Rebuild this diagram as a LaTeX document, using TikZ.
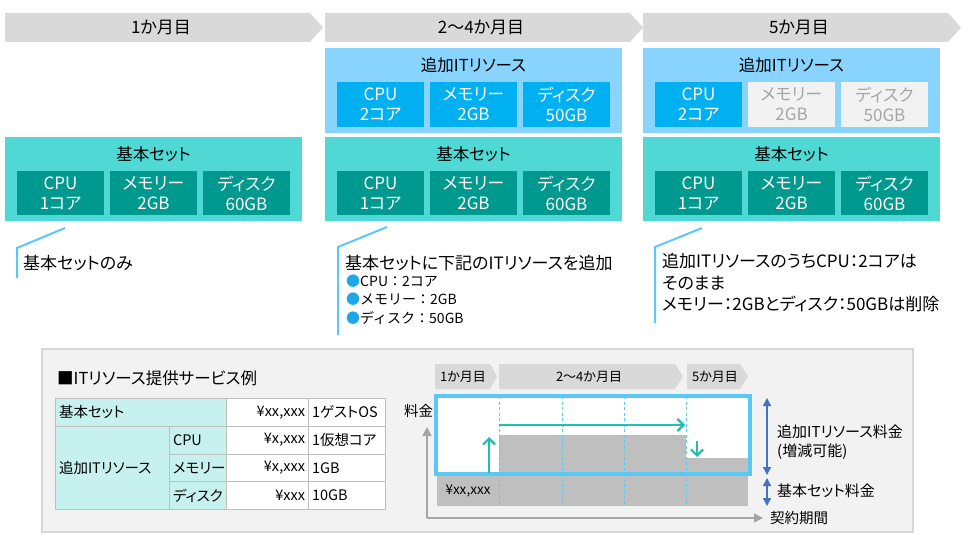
\documentclass[tikz,border=0pt]{standalone}
\usepackage{fontspec}
\setmainfont{Noto Sans CJK JP}[RawFeature=+palt]
\newfontfamily\fullwidth{Noto Sans CJK JP}
\usetikzlibrary{arrows.meta, positioning}

\definecolor{hdrgray}{HTML}{D9D9D9}
\definecolor{addblue}{HTML}{88D4FF}
\definecolor{addcellblue}{HTML}{00B0F0}
\definecolor{basecyan}{HTML}{50D8D4}
\definecolor{baseteal}{HTML}{00998F}
\definecolor{offgray}{HTML}{F2F2F2}
\definecolor{offtext}{HTML}{A6A6A6}
\definecolor{calloutblue}{HTML}{5BC8F5}
\definecolor{bulletblue}{HTML}{1EA7E8}
\definecolor{tblcyan}{HTML}{C6F1EF}
\definecolor{tblline}{HTML}{BFBFBF}
\definecolor{panelgray}{HTML}{F2F2F2}
\definecolor{panelline}{HTML}{D6D6D6}
\definecolor{frameblue}{HTML}{59C8F5}
\definecolor{bargray}{HTML}{BFBFBF}
\definecolor{arrowteal}{HTML}{20C0B0}
\definecolor{axisgray}{HTML}{A6A6A6}
\definecolor{spanblue}{HTML}{4472C4}
\newcommand{\fs}[2]{\fontsize{#1}{#2}\selectfont}
\newcommand{\bul}{{\color{bulletblue}●}}

\begin{document}
\begin{tikzpicture}[x=1pt, y=-1pt,
        hdr/.style = {fill=hdrgray},
        hdrtext/.style = {font=\fs{17}{20}},
        basebox/.style = {fill=basecyan, minimum width=297pt, minimum height=84pt, inner sep=0pt},
        addbox/.style = {fill=addblue, minimum width=297pt, minimum height=85pt, inner sep=0pt},
        boxtitle/.style = {font=\fs{16.5}{19}},
        boxcell/.style = {minimum width=87pt, inner sep=0pt, align=center, font=\fs{17}{20}},
        basecell/.style = {boxcell, fill=baseteal, text=white, minimum height=44pt},
        addcell/.style = {boxcell, fill=addcellblue, text=white, minimum height=45pt},
        offcell/.style = {boxcell, fill=offgray, text=offtext, minimum height=45pt},
        callout/.style = {draw=calloutblue, line width=2pt},
        note/.style = {font=\fs{17}{21.5}, align=left, inner sep=0pt},
        tcell/.style = {draw=tblline, line width=1pt, minimum height=27.75pt, inner xsep=3.5pt,
                        inner ysep=0pt, font=\fs{14.5}{17}, anchor=north west, fill=white},
        chip/.style = {font=\fs{13}{15}},
        rise/.style = {draw=arrowteal, line width=2.2pt, -{Straight Barb[length=6pt, width=12pt]}},
        axis/.style = {draw=axisgray, line width=1.5pt, -{Triangle[length=9pt, width=9pt]}},
        span/.style = {draw=spanblue, line width=1.3pt,
                       {Triangle[length=8pt, width=8pt]}-{Triangle[length=8pt, width=8pt]}},
        label/.style = {font=\fs{15}{18}, anchor=west, inner sep=0pt}]
    \useasboundingbox (0,0) rectangle (965,543);

    % month 1
    \fill[hdr] (5,13) -- (310,13) -- (323,27.5) -- (310,42) -- (5,42) -- cycle;
    \node[hdrtext] (m1) at (161,27.5) {1か月目};
    \node[basebox] (base1) at (153.5,179) {};
    \node[boxtitle] (base1t) at (153.5,154) {基本セット};
    \node[basecell] (base1cpu) at (60.5,193) {CPU\\1コア};
    \node[basecell] (base1mem) at (153.5,193) {メモリー\\2GB};
    \node[basecell] (base1disk) at (246.5,193) {ディスク\\60GB};
    \coordinate (c1a) at (17,278);
    \coordinate (c1b) at (17,248);
    \coordinate (c1c) at (65,228);
    \draw[callout] (c1a) -- (c1b) -- (c1c);
    \node[note, anchor=west] (note1) at (23,263) {基本セットのみ};

    % months 2-4
    \begin{scope}[xshift=320pt]
        \fill[hdr] (5,13) -- (310,13) -- (323,27.5) -- (310,42) -- (5,42) -- cycle;
        \node[hdrtext] (m2) at (161,27.5) {2〜4か月目};
        \node[addbox] (add2) at (153.5,90.5) {};
        \node[boxtitle] (add2t) at (153.5,65) {追加ITリソース};
        \node[addcell] (add2cpu) at (60.5,104.5) {CPU\\2コア};
        \node[addcell] (add2mem) at (153.5,104.5) {メモリー\\2GB};
        \node[addcell] (add2disk) at (246.5,104.5) {ディスク\\50GB};
        \node[basebox] (base2) at (153.5,179) {};
        \node[boxtitle] (base2t) at (153.5,154) {基本セット};
        \node[basecell] (base2cpu) at (60.5,193) {CPU\\1コア};
        \node[basecell] (base2mem) at (153.5,193) {メモリー\\2GB};
        \node[basecell] (base2disk) at (246.5,193) {ディスク\\60GB};
        \coordinate (c2a) at (18,335);
        \coordinate (c2b) at (18,247);
        \coordinate (c2c) at (67,227);
        \draw[callout] (c2a) -- (c2b) -- (c2c);
        \node[note, anchor=west] (note2) at (25,263) {基本セットに下記のITリソースを追加};
        \node[note, anchor=north west, font=\fullwidth\fs{14}{18.5}] (list2) at (26,274.5)
            {\bul CPU：2コア\\\bul メモリー：2GB\\\bul ディスク：50GB};
    \end{scope}

    % month 5
    \begin{scope}[xshift=638pt]
        \fill[hdr] (5,13) -- (310,13) -- (323,27.5) -- (310,42) -- (5,42) -- cycle;
        \node[hdrtext] (m3) at (161,27.5) {5か月目};
        \node[addbox] (add3) at (153.5,90.5) {};
        \node[boxtitle] (add3t) at (153.5,65) {追加ITリソース};
        \node[addcell] (add3cpu) at (60.5,104.5) {CPU\\2コア};
        \node[offcell] (add3mem) at (153.5,104.5) {メモリー\\2GB};
        \node[offcell] (add3disk) at (246.5,104.5) {ディスク\\50GB};
        \node[basebox] (base3) at (153.5,179) {};
        \node[boxtitle] (base3t) at (153.5,154) {基本セット};
        \node[basecell] (base3cpu) at (60.5,193) {CPU\\1コア};
        \node[basecell] (base3mem) at (153.5,193) {メモリー\\2GB};
        \node[basecell] (base3disk) at (246.5,193) {ディスク\\60GB};
        \coordinate (c3a) at (17,323);
        \coordinate (c3b) at (17,247);
        \coordinate (c3c) at (64,228);
        \draw[callout] (c3a) -- (c3b) -- (c3c);
        \node[note, anchor=north west] (note3) at (24,253)
            {追加ITリソースのうちCPU：2コアは\\そのまま\\メモリー：2GBとディスク：50GBは削除};
    \end{scope}

    % service example panel
    \filldraw[fill=panelgray, draw=panelline, line width=1.5pt] (42,349) rectangle (913,532);
    \node[anchor=west, inner sep=0pt, font=\fs{16.5}{19}] (ttl) at (57,378) {■ITリソース提供サービス例};

    % table
    \node[tcell, fill=tblcyan, text width=164pt, align=left] (t11) at (55,398) {基本セット};
    \node[tcell, text width=75pt, align=right] (t13) at (226,398) {¥xx,xxx};
    \node[tcell, text width=70pt, align=left] (t14) at (308,398) {1ゲストOS};
    \node[tcell, fill=tblcyan, text width=107pt, align=left, minimum height=83.25pt] (t21) at (55,425.75) {追加ITリソース};
    \node[tcell, fill=tblcyan, text width=50pt, align=left] (t22) at (169,425.75) {CPU};
    \node[tcell, text width=75pt, align=right] (t23) at (226,425.75) {¥x,xxx};
    \node[tcell, text width=70pt, align=left] (t24) at (308,425.75) {1仮想コア};
    \node[tcell, fill=tblcyan, text width=50pt, align=left] (t32) at (169,453.5) {メモリー};
    \node[tcell, text width=75pt, align=right] (t33) at (226,453.5) {¥x,xxx};
    \node[tcell, text width=70pt, align=left] (t34) at (308,453.5) {1GB};
    \node[tcell, fill=tblcyan, text width=50pt, align=left] (t42) at (169,481.25) {ディスク};
    \node[tcell, text width=75pt, align=right] (t43) at (226,481.25) {¥xxx};
    \node[tcell, text width=70pt, align=left] (t44) at (308,481.25) {10GB};

    % fee chart
    \fill[hdr] (435,364) -- (490,364) -- (497,376.5) -- (490,389) -- (435,389) -- cycle;
    \fill[hdr] (499,364) -- (675,364) -- (683,376.5) -- (675,389) -- (499,389) -- cycle;
    \fill[hdr] (687,364) -- (740,364) -- (748,376.5) -- (740,389) -- (687,389) -- cycle;
    \node[chip] (k1) at (463,376.5) {1か月目};
    \node[chip] (k2) at (589,376.5) {2〜4か月目};
    \node[chip] (k3) at (715,376.5) {5か月目};
    \fill[white] (436,396) rectangle (750,474);
    \fill[bargray] (437,474) rectangle (748,506);
    \fill[bargray] (499,435) rectangle (686,474);
    \fill[bargray] (686,458) rectangle (748,474);
    \node[font=\fs{13.5}{16}] (basefee) at (468,491) {¥xx,xxx};
    \foreach \gx in {499, 562, 624, 686}
        \draw[frameblue, line width=1pt, dash pattern=on 3pt off 2.5pt] (\gx,396) -- (\gx,506);
    \draw[frameblue, line width=3.5pt] (436,396) rectangle (750,474);
    \coordinate (up1) at (489,473);
    \coordinate (up2) at (489,437);
    \coordinate (keep1) at (499,425);
    \coordinate (keep2) at (685,425);
    \coordinate (dn1) at (697,441);
    \coordinate (dn2) at (697,457);
    \draw[rise] (up1) -- (up2);
    \draw[rise] (keep1) -- (keep2);
    \draw[rise] (dn1) -- (dn2);

    % axes
    \coordinate (org) at (427,518);
    \coordinate (ytop) at (427,427);
    \coordinate (xend) at (763,518);
    \draw[axis] (org) -- (ytop);
    \draw[axis] (org) -- (xend);
    \node[font=\fs{14.5}{17}] (fee) at (418.5,411) {料金};
    \node[label, font=\fs{14.5}{17}] (term) at (770,518) {契約期間};

    % fee spans
    \coordinate (s1) at (767,398);
    \coordinate (s2) at (767,475);
    \coordinate (s3) at (767,478);
    \coordinate (s4) at (767,506);
    \draw[span] (s1) -- (s2);
    \draw[span] (s3) -- (s4);
    \node[label] (addfee) at (777,432) {追加ITリソース料金};
    \node[label] (addfee2) at (777,452) {(増減可能)};
    \node[label] (setfee) at (777,491) {基本セット料金};
\end{tikzpicture}
\end{document}
